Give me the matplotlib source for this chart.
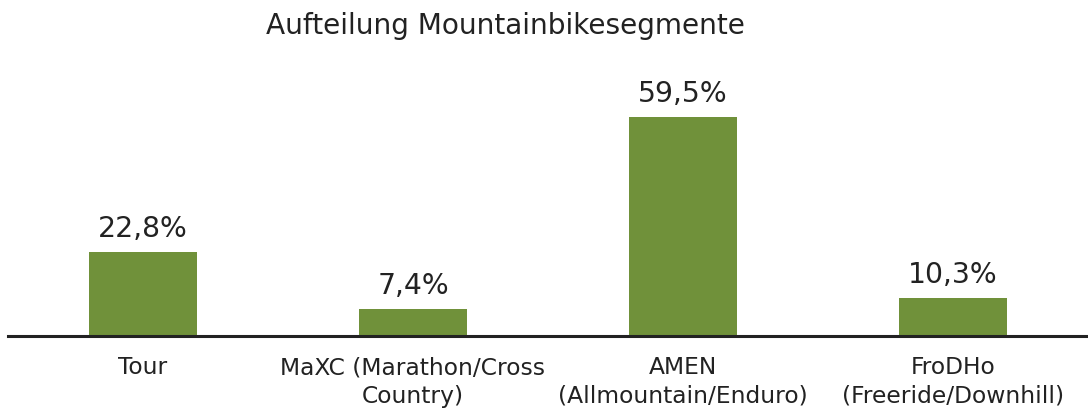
import matplotlib.pyplot as plt

categories = ['Tour', 'MaXC (Marathon/Cross\nCountry)', 'AMEN\n(Allmountain/Enduro)',
              'FroDHo\n(Freeride/Downhill)']
values = [22.8, 7.4, 59.5, 10.3]
value_labels = ['22,8%', '7,4%', '59,5%', '10,3%']

plt.rcParams['font.family'] = 'DejaVu Sans'

fig = plt.figure(figsize=(10.88, 4.10), dpi=100)
ax = fig.add_axes([8 / 1088, 73 / 410, 1080 / 1088, 258 / 410])

x = range(len(categories))
bars = ax.bar(x, values, width=0.4, color='#70913A')
ax.set_xlim(-0.5, 3.5)
ax.set_ylim(0, 70)

for b, lab in zip(bars, value_labels):
    ax.text(b.get_x() + b.get_width() / 2, b.get_height() + 2.7, lab,
            ha='center', va='bottom', fontsize=20.3, color='#222222')

for s in ['top', 'right', 'left']:
    ax.spines[s].set_visible(False)
ax.spines['bottom'].set_linewidth(2.2)
ax.spines['bottom'].set_color('#222222')
ax.set_yticks([])
ax.set_xticks(list(x))
ax.set_xticklabels(categories, fontsize=16.8, color='#222222', linespacing=1.3)
ax.tick_params(axis='x', length=0, pad=14)

fig.text(505 / 1088, 1 - 26 / 410, 'Aufteilung Mountainbikesegmente',
         ha='center', va='center', fontsize=20.2, color='#222222')

fig.savefig('out.png', dpi=100)
